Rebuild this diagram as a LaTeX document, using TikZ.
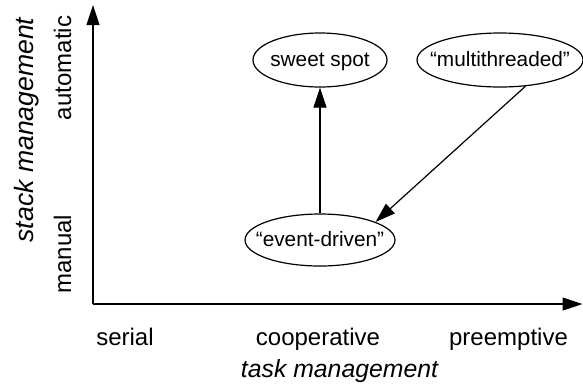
\documentclass[tikz,border=0pt]{standalone}
\usepackage{fontspec}
\setmainfont{Liberation Sans}
\usetikzlibrary{arrows.meta,shapes.geometric}
\newcommand{\blobtext}[1]{\makebox[0pt]{\raisebox{-0.3em}[0pt][0pt]{#1}}}
\begin{document}
\begin{tikzpicture}[x=0.5pt,y=-0.5pt,
  every path/.style={line width=0.6pt},
  axisarrow/.style={-{Triangle[length=10pt,width=6.5pt]}},
  linkarrow/.style={-{Triangle[length=10pt,width=6.5pt]}},
  axlabel/.style={font=\fontsize{12}{14}\selectfont, inner sep=0pt, anchor=base},
  axtitle/.style={font=\fontsize{12.4}{14}\selectfont\itshape, inner sep=0pt, anchor=base},
  blob/.style={draw, ellipse, inner sep=0pt, font=\fontsize{10.4}{12}\selectfont}]
\useasboundingbox (0,0) rectangle (583,387);
\coordinate (origin) at (93,304);
\coordinate (ytip) at (93,5);
\coordinate (xtip) at (582.5,304);
\draw[axisarrow] (origin) -- (ytip);
\draw[axisarrow] (origin) -- (xtip);
\node[blob, minimum width=67pt, minimum height=27pt] (ss) at (320,60) {\blobtext{sweet spot}};
\node[blob, minimum width=83pt, minimum height=27pt] (mt) at (500,60) {\blobtext{“multithreaded”}};
\node[blob, minimum width=75pt, minimum height=26pt] (ed) at (320,240) {\blobtext{“event-driven”}};
\draw[linkarrow] (ed) -- (ss);
\draw[linkarrow] (mt.-46) -- (ed.18);
\node[axlabel] (serial) at (125,345) {serial};
\node[axlabel] (coop) at (318,345) {cooperative};
\node[axlabel] (pre) at (508.5,345) {preemptive};
\node[axtitle] (tm) at (339.5,377) {task management};
\node[axlabel, rotate=90] (man) at (71,254) {manual};
\node[axlabel, rotate=90] (auto) at (71,68) {automatic};
\node[axtitle, rotate=90, font=\fontsize{13.3}{15}\selectfont\itshape] (sm) at (33,130) {stack management};
\end{tikzpicture}
\end{document}
